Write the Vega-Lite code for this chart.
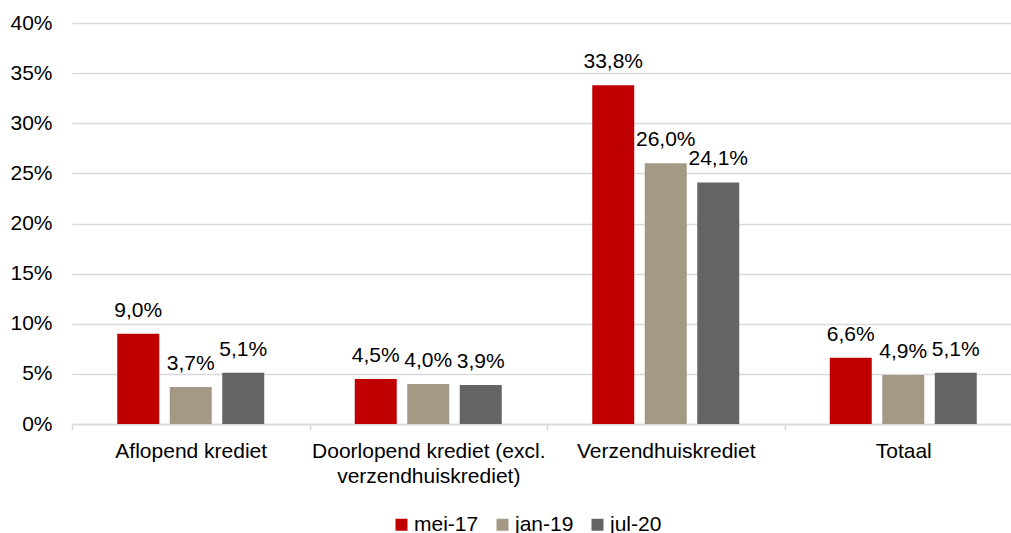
{
  "$schema": "https://vega.github.io/schema/vega-lite/v6.json",
  "autosize": {"type": "none"},
  "width": 939,
  "height": 401,
  "padding": {"left": 72, "top": 23, "right": 0, "bottom": 109},
  "background": "white",
  "config": {
    "locale": {"number": {"decimal": ",", "thousands": ".", "grouping": [3], "currency": ["€", ""]}},
    "font": "Liberation Sans",
    "view": {"stroke": null},
    "axis": {"labelFont": "Liberation Sans", "labelColor": "#000000", "labelFontSize": 21}
  },
  "data": {
    "values": [
      {"cat": "Aflopend krediet", "period": "mei-17", "value": 0.090},
      {"cat": "Aflopend krediet", "period": "jan-19", "value": 0.037},
      {"cat": "Aflopend krediet", "period": "jul-20", "value": 0.051},
      {"cat": "Doorlopend krediet (excl. verzendhuiskrediet)", "period": "mei-17", "value": 0.045},
      {"cat": "Doorlopend krediet (excl. verzendhuiskrediet)", "period": "jan-19", "value": 0.040},
      {"cat": "Doorlopend krediet (excl. verzendhuiskrediet)", "period": "jul-20", "value": 0.039},
      {"cat": "Verzendhuiskrediet", "period": "mei-17", "value": 0.338},
      {"cat": "Verzendhuiskrediet", "period": "jan-19", "value": 0.260},
      {"cat": "Verzendhuiskrediet", "period": "jul-20", "value": 0.241},
      {"cat": "Totaal", "period": "mei-17", "value": 0.066},
      {"cat": "Totaal", "period": "jan-19", "value": 0.049},
      {"cat": "Totaal", "period": "jul-20", "value": 0.051}
    ]
  },
  "encoding": {
    "x": {
      "field": "cat",
      "type": "nominal",
      "sort": ["Aflopend krediet", "Doorlopend krediet (excl. verzendhuiskrediet)", "Verzendhuiskrediet", "Totaal"],
      "scale": {"range": [0, 950], "paddingInner": 0, "paddingOuter": 0},
      "axis": {
        "title": null,
        "labelAngle": 0,
        "labelPadding": 10,
        "labelLimit": 0,
        "labelLineHeight": 25,
        "labelExpr": "datum.label == 'Doorlopend krediet (excl. verzendhuiskrediet)' ? ['Doorlopend krediet (excl.', 'verzendhuiskrediet)'] : datum.label",
        "domainColor": "#d9d9d9",
        "domainWidth": 1.5,
        "tickColor": "#d9d9d9",
        "tickWidth": 1.5,
        "tickSize": 6,
        "tickBand": "extent",
        "grid": false
      }
    },
    "xOffset": {
      "field": "period",
      "type": "nominal",
      "sort": ["mei-17", "jan-19", "jul-20"],
      "scale": {"paddingInner": 0.2, "paddingOuter": 0.862}
    },
    "y": {
      "field": "value",
      "type": "quantitative",
      "scale": {"domain": [0, 0.4], "nice": false},
      "axis": {
        "title": null,
        "format": ".0%",
        "values": [0, 0.05, 0.1, 0.15, 0.2, 0.25, 0.3, 0.35, 0.4],
        "domain": false,
        "ticks": false,
        "labelPadding": 20,
        "gridColor": "#d9d9d9",
        "gridWidth": 1.5
      }
    }
  },
  "layer": [
    {
      "mark": {"type": "bar"},
      "encoding": {
        "color": {
          "field": "period",
          "type": "nominal",
          "sort": ["mei-17", "jan-19", "jul-20"],
          "scale": {"domain": ["mei-17", "jan-19", "jul-20"], "range": ["#C00000", "#A39985", "#646464"]},
          "legend": {
            "title": null,
            "orient": "none",
            "direction": "horizontal",
            "legendX": 319,
            "legendY": 491,
            "symbolType": "square",
            "symbolSize": 144,
            "symbolStrokeWidth": 0,
            "labelFontSize": 21,
            "labelFont": "Liberation Sans",
            "labelColor": "#000000",
            "labelOffset": 2,
            "columnPadding": 13
          }
        }
      }
    },
    {
      "mark": {"type": "text", "dy": -17, "baseline": "alphabetic", "fontSize": 21, "font": "Liberation Sans", "color": "#000000"},
      "encoding": {
        "text": {"field": "value", "type": "quantitative", "format": ".1%"}
      }
    }
  ]
}
